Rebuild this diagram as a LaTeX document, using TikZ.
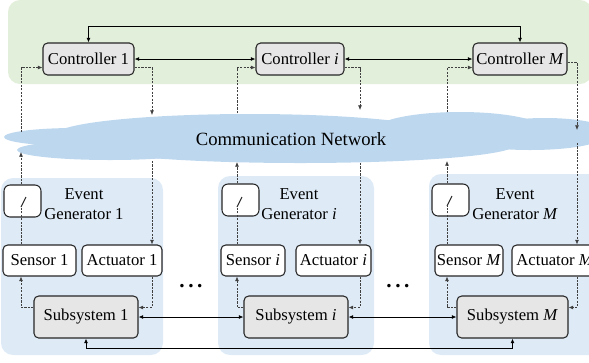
\documentclass[tikz,border=0pt]{standalone}
\usepackage{fontspec}
\setmainfont{Liberation Serif}
\usetikzlibrary{arrows.meta,calc}
\definecolor{ctrlgreen}{HTML}{E2EFDA}
\definecolor{plantblue}{HTML}{DEEBF7}
\definecolor{netblue}{HTML}{BDD7EE}
\definecolor{boxgray}{HTML}{E7E6E6}

\begin{document}
\begin{tikzpicture}[x=0.75pt,y=-0.75pt,
    box/.style={draw=black!85,line width=0.8pt,rounded corners=3.5pt,fill=white,inner sep=0pt,
      font=\fontsize{12.5}{15}\selectfont},
    gbox/.style={box,fill=boxgray},
    swbox/.style={box,rounded corners=4.5pt,minimum width=27.75pt,minimum height=24pt},
    sig/.style={black!75,line width=0.5pt,dash pattern=on 1.6pt off 1pt,-{Latex[length=3.5pt,width=3pt]}},
    link/.style={black,line width=0.6pt,{Latex[length=3.5pt,width=3pt]}-{Latex[length=3.5pt,width=3pt]}}]
  \useasboundingbox (0,0) rectangle (589,362);
  \clip (0,0) rectangle (589,362);

  % control layer and the three subsystem areas
  \fill[ctrlgreen,rounded corners=9pt] (8,0) rectangle (592,84);
  \fill[plantblue,rounded corners=9pt] (1,178) rectangle (163,355);
  \fill[plantblue,rounded corners=9pt] (218,176) rectangle (374,355);
  \fill[plantblue,rounded corners=9pt] (429,174) rectangle (610,355);

  % network cloud
  \fill[netblue] (75,137) ellipse [x radius=53.25pt,y radius=6.75pt];
  \fill[netblue] (110,150) ellipse [x radius=69.75pt,y radius=7.5pt];
  \fill[netblue] (250,135) ellipse [x radius=146.25pt,y radius=15.75pt];
  \fill[netblue] (300,145) ellipse [x radius=161.25pt,y radius=13.5pt];
  \fill[netblue] (460,130) ellipse [x radius=63.75pt,y radius=13.5pt];
  \fill[netblue] (545,130) ellipse [x radius=45pt,y radius=9pt];
  \fill[netblue] (530,138) ellipse [x radius=52.5pt,y radius=9pt];
  \node[font=\fontsize{14}{16}\selectfont] (net) at (291,139) {Communication Network};

  % controllers
  \node[gbox,minimum width=68.25pt,minimum height=24pt] (ctl1) at (88.5,59) {Controller 1};
  \node[gbox,minimum width=66pt,minimum height=24pt] (ctli) at (300,59) {Controller \textit{i}};
  \node[gbox,minimum width=70.5pt,minimum height=24pt] (ctlM) at (520,59) {Controller \textit{M}};

  % event generators
  \node[swbox] (sw1) at (22.5,201) {};
  \node[swbox] (swi) at (240.5,200) {};
  \node[swbox] (swM) at (450.5,200) {};
  \node[align=center,font=\fontsize{12.5}{15}\selectfont] (eg1) at (84,204) {Event\\Generator 1};
  \node[align=center,font=\fontsize{12.5}{15}\selectfont] (egi) at (299,204) {Event\\Generator \textit{i}};
  \node[align=center,font=\fontsize{12.5}{15}\selectfont] (egM) at (515,204) {Event\\Generator \textit{M}};

  % sensors, actuators, subsystems
  \node[box,minimum width=54.75pt,minimum height=23.25pt] (sen1) at (39.5,260.5) {Sensor 1};
  \node[box,minimum width=60pt,minimum height=23.25pt] (act1) at (122,260.5) {Actuator 1};
  \node[box,minimum width=48pt,minimum height=23.25pt] (seni) at (253,260.5) {Sensor \textit{i}};
  \node[box,minimum width=56.25pt,minimum height=23.25pt] (acti) at (333.5,260.5) {Actuator \textit{i}};
  \node[box,minimum width=51pt,minimum height=23.25pt] (senM) at (469,260.5) {Sensor \textit{M}};
  \node[box,minimum width=64.5pt,minimum height=23.25pt] (actM) at (555,260.5) {Actuator \textit{M}};
  \node[gbox,minimum width=78pt,minimum height=31.5pt] (sub1) at (86,317) {Subsystem 1};
  \node[gbox,minimum width=78pt,minimum height=31.5pt] (subi) at (296,317) {Subsystem \textit{i}};
  \node[gbox,minimum width=83.25pt,minimum height=31.5pt] (subM) at (512.5,317) {Subsystem \textit{M}};

  \node[font=\fontsize{16}{16}\bfseries] (dots1) at (191,286) {.\,.\,.};
  \node[font=\fontsize{16}{16}\bfseries] (dots2) at (398,286) {.\,.\,.};

  % points where the dashed lines meet the cloud
  \coordinate (k1) at (21,207);   \coordinate (s1in) at (21,152);  \coordinate (s1out) at (21,132);
  \coordinate (a1in) at (152,115); \coordinate (a1out) at (152,161);
  \coordinate (ki) at (237,207);  \coordinate (siin) at (237,162); \coordinate (siout) at (237,113);
  \coordinate (aiin) at (360,110); \coordinate (aiout) at (360,163);
  \coordinate (kM) at (447,206);  \coordinate (sMin) at (447,161); \coordinate (sMout) at (447,112);
  \coordinate (aMin) at (577,130); \coordinate (aMout) at (577,143);

  % solid couplings
  \draw[link] (ctl1.north) -- ++(0,-16) -| (ctlM.north);
  \draw[link] (ctl1.east) -- (ctli.west);
  \draw[link] (ctli.east) -- (ctlM.west);
  \draw[link] (sub1.east) -- (subi.west);
  \draw[link] (subi.east) -- (subM.west);
  \draw[link] (sub1.south) -- ++(0,10) -| (subM.south);

  % loop 1
  \draw[sig] ($(ctl1.south east)+(0,-8)$) -| (a1in);
  \draw[sig] (a1out) -- (a1out |- act1.north);
  \draw[sig] (a1out |- act1.south) |- ($(sub1.north east)+(0,12)$);
  \draw[sig] ($(sub1.north west)+(0,12)$) -| (k1 |- sen1.south);
  \draw[sig,-] (k1 |- sen1.north) -- (k1);
  \draw[black!85,line width=0.7pt] (k1) -- ++(5,-10);
  \draw[sig] (k1 |- sw1.north) -- (s1in);
  \draw[sig] (s1out) |- ($(ctl1.south west)+(0,-8)$);

  % loop i
  \draw[sig] ($(ctli.south east)+(0,-8)$) -| (aiin);
  \draw[sig] (aiout) -- (aiout |- acti.north);
  \draw[sig] (aiout |- acti.south) |- ($(subi.north east)+(0,12)$);
  \draw[sig] ($(subi.north west)+(0,12)$) -| (ki |- seni.south);
  \draw[sig,-] (ki |- seni.north) -- (ki);
  \draw[black!85,line width=0.7pt] (ki) -- ++(5,-10);
  \draw[sig] (ki |- swi.north) -- (siin);
  \draw[sig] (siout) |- ($(ctli.south west)+(0,-8)$);

  % loop M
  \draw[sig] ($(ctlM.south east)+(0,-13)$) -| (aMin);
  \draw[sig] (aMout) -- (aMout |- actM.north);
  \draw[sig] (aMout |- actM.south) |- ($(subM.north east)+(0,12)$);
  \draw[sig] ($(subM.north west)+(0,12)$) -| (kM |- senM.south);
  \draw[sig,-] (kM |- senM.north) -- (kM);
  \draw[black!85,line width=0.7pt] (kM) -- ++(5,-10);
  \draw[sig] (kM |- swM.north) -- (sMin);
  \draw[sig] (sMout) |- ($(ctlM.south west)+(0,-8)$);
\end{tikzpicture}
\end{document}
